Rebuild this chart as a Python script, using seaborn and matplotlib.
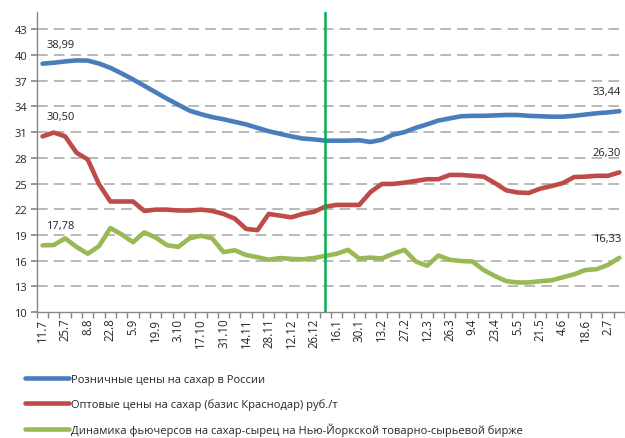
import numpy as np
import pandas as pd
import matplotlib
matplotlib.use("Agg")
import matplotlib.pyplot as plt
import seaborn as sns

# недели (подписи каждой второй)
dates = ["11.7", "18.7", "25.7", "1.8", "8.8", "15.8", "22.8", "29.8", "5.9", "12.9",
         "19.9", "26.9", "3.10", "10.10", "17.10", "24.10", "31.10", "7.11", "14.11", "21.11",
         "28.11", "5.12", "12.12", "19.12", "26.12", "9.1", "16.1", "23.1", "30.1", "6.2",
         "13.2", "20.2", "27.2", "5.3", "12.3", "19.3", "26.3", "2.4", "9.4", "16.4",
         "23.4", "30.4", "5.5", "14.5", "21.5", "28.5", "4.6", "11.6", "18.6", "25.6",
         "2.7", "9.7"]

retail = [38.99, 39.1, 39.25, 39.37, 39.35, 39.0, 38.5, 37.85, 37.15, 36.4,
          35.65, 34.9, 34.2, 33.5, 33.1, 32.75, 32.5, 32.2, 31.9, 31.5,
          31.1, 30.8, 30.5, 30.25, 30.15, 30.0, 30.0, 30.0, 30.05, 29.85,
          30.1, 30.7, 31.0, 31.5, 31.9, 32.35, 32.6, 32.85, 32.9, 32.9,
          32.95, 33.0, 33.0, 32.9, 32.85, 32.8, 32.8, 32.9, 33.05, 33.2,
          33.3, 33.44]

wholesale = [30.50, 30.95, 30.5, 28.6, 27.8, 24.9, 22.9, 22.9, 22.9, 21.8,
             21.95, 21.95, 21.85, 21.85, 21.95, 21.8, 21.45, 20.9, 19.7, 19.55,
             21.45, 21.25, 21.05, 21.45, 21.7, 22.3, 22.5, 22.5, 22.5, 24.0,
             24.95, 24.95, 25.1, 25.3, 25.5, 25.5, 26.0, 26.0, 25.9, 25.8,
             25.05, 24.2, 23.95, 23.9, 24.4, 24.7, 25.05, 25.75, 25.8, 25.9,
             25.9, 26.30]

futures = [17.78, 17.82, 18.6, 17.6, 16.8, 17.7, 19.8, 19.05, 18.15, 19.3,
           18.7, 17.8, 17.6, 18.6, 18.9, 18.6, 17.0, 17.2, 16.65, 16.4,
           16.1, 16.3, 16.2, 16.15, 16.3, 16.55, 16.8, 17.25, 16.25, 16.35,
           16.25, 16.8, 17.25, 15.9, 15.4, 16.6, 16.1, 15.95, 15.9, 14.9,
           14.2, 13.6, 13.45, 13.45, 13.6, 13.7, 14.05, 14.4, 14.9, 15.0,
           15.5, 16.33]

labels = ["Розничные цены на сахар в России",
          "Оптовые цены на сахар (базис Краснодар) руб./т",
          "Динамика фьючерсов на сахар-сырец на Нью-Йоркской товарно-сырьевой бирже"]
colors = ["#4A7EBB", "#BE4B48", "#98B954"]
divider_week = "9.1"

sns.set_theme(style="white")
plt.rcParams["font.family"] = ["Open Sans", "DejaVu Sans"]

rows = []
for name, vals in zip(labels, [retail, wholesale, futures]):
    for i, v in enumerate(vals):
        rows.append({"idx": i, "value": v, "series": name})
df = pd.DataFrame(rows)

fig = plt.figure(figsize=(6.25, 4.39), dpi=100)
ax = fig.add_axes([0.059, 0.287, 0.941, 0.683])

for y in range(13, 44, 3):
    ax.axhline(y, color="#A6A6A6", lw=1.1, ls=(0, (7, 4)), zorder=0)

sns.lineplot(data=df, x="idx", y="value", hue="series", palette=colors,
             linewidth=3.3, ax=ax, legend=False, zorder=3)

ax.axvline(dates.index(divider_week), color="#00B050", lw=1.8, zorder=4)

# подписи первых и последних значений
n = len(dates)
for vals in [retail, wholesale, futures]:
    ax.annotate(f"{vals[0]:.2f}".replace(".", ","), (0, vals[0]), xytext=(13, 10),
                textcoords="offset points", ha="center", va="bottom", fontsize=8, color="#222222")
    ax.annotate(f"{vals[-1]:.2f}".replace(".", ","), (n - 1, vals[-1]), xytext=(-9, 10),
                textcoords="offset points", ha="center", va="bottom", fontsize=8, color="#222222",
                annotation_clip=False)

ax.set_xlim(-0.5, n - 0.5)
ax.set_ylim(10, 45)
ax.set_yticks(range(10, 44, 3))
ax.set_xticks(range(0, n, 2))
ax.set_xticklabels(dates[::2], rotation=90)
ax.set_xticks(np.arange(-0.5, n, 1), minor=True)
ax.tick_params(axis="x", which="major", length=0, labelsize=8.3, pad=4)
ax.tick_params(axis="x", which="minor", length=4, color="#888888", bottom=True)
ax.tick_params(axis="y", length=4, color="#888888", left=True, labelsize=8, pad=3)
ax.set_xlabel("")
ax.set_ylabel("")
for s in ["top", "right"]:
    ax.spines[s].set_visible(False)
for s in ["left", "bottom"]:
    ax.spines[s].set_color("#888888")
    ax.spines[s].set_linewidth(1.0)

handles = [plt.Line2D([], [], color=c, lw=3.3) for c in colors]
fig.legend(handles, labels, loc="upper left", bbox_to_anchor=(0.04, 0.145), frameon=False,
           fontsize=8, handlelength=4.0, handletextpad=0.1, labelspacing=1.15,
           borderaxespad=0, borderpad=0)

fig.savefig("out.png", dpi=100)
